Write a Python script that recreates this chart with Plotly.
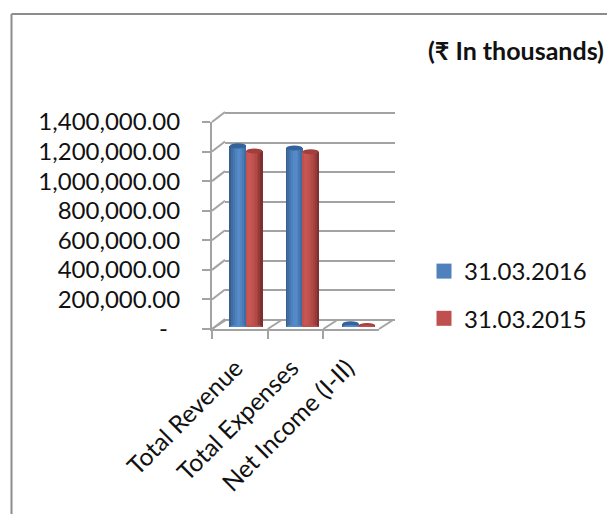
import plotly.graph_objects as go

W, H = 607, 514
FW, FH = W, H

categories = ["Total Revenue", "Total Expenses", "Net Income (I-II)"]
series_names = ["31.03.2016", "31.03.2015"]
values_2016 = [1225000, 1210000, 22000]
values_2015 = [1190000, 1185000, 10000]
y_ticks = [0, 200000, 400000, 600000, 800000, 1000000, 1200000, 1400000]
y_labels = ["-\u00a0\u00a0", "200,000.00", "400,000.00", "600,000.00", "800,000.00",
            "1,000,000.00", "1,200,000.00", "1,400,000.00"]
subtitle = "(₹ In thousands)"

blue_shades = ["#375E8E", "#3F6CA3", "#4877AF", "#4F81BD", "#5489C7", "#558BCA", "#5085C2", "#487AB4", "#3E6CA3"]
red_shades = ["#C0504D", "#C65652", "#C75753", "#C35350", "#BC4E4B", "#B34946", "#A64340", "#943A38", "#7E302E"]
blue_cap, red_cap = "#34629C", "#A23E3B"
blue_key, red_key = "#4F81BD", "#C0504D"
GRAY = "#A3A3A3"


def px(x):
    return x / FW


def py(y):
    return 1 - y / FH


fig = go.Figure()

# back wall first, so that its gridlines lie behind the bars
fig.add_trace(go.Scatter(x=[None], y=[None], xaxis="x2", yaxis="y2", showlegend=False, hoverinfo="skip"))

half = 0.29
positions = list(range(len(categories)))
shapes = []
for values, shades, cap, side in [
    (values_2016, blue_shades, blue_cap, -1),
    (values_2015, red_shades, red_cap, 1),
]:
    n = len(shades)
    strip = half / n
    for i, colour in enumerate(shades):
        left = (-half if side < 0 else 0) + i * strip
        fig.add_trace(go.Bar(
            x=positions, y=values, xaxis="x3", yaxis="y3",
            width=strip * 1.08, offset=left,
            marker=dict(color=colour, line=dict(width=0)),
            showlegend=False, hoverinfo="skip",
        ))
    for p, v in zip(positions, values):
        x0 = p + (-half if side < 0 else 0)
        x1 = x0 + half
        shapes.append(dict(type="circle", xref="x3", yref="y3", x0=x0, x1=x1,
                           y0=v - 17000, y1=v + 17000, fillcolor=cap, line_width=0, layer="above"))
        shapes.append(dict(type="circle", xref="x3", yref="y3", x0=x0, x1=x1,
                           y0=-14000, y1=14000, fillcolor=shades[n // 2], line_width=0, layer="above"))

for k, (name, colour) in enumerate(zip(series_names, [blue_key, red_key])):
    fig.add_trace(go.Scatter(
        x=[None], y=[None], xaxis="x3", yaxis="y3", mode="markers", name=name,
        legendgroup=name,
        marker=dict(symbol="square", size=15, color=colour),
    ))

# depth lines of the 3-D frame
line = dict(color=GRAY, width=2)
front_x = [212, 267.7, 323.3, 379]
for fx in front_x:
    shapes.append(dict(type="line", xref="paper", yref="paper", x0=px(fx), x1=px(fx + 14),
                       y0=py(329), y1=py(320), line=line, layer="below"))
for k in range(len(y_ticks)):
    fy = 329 - k * 207 / 7
    shapes.append(dict(type="line", xref="paper", yref="paper", x0=px(212), x1=px(225),
                       y0=py(fy), y1=py(fy - 10), line=line, layer="below"))
# chart border
shapes.append(dict(type="line", xref="paper", yref="paper", x0=px(11.5), x1=1, y0=py(14), y1=py(14),
                   line=dict(color="#8C8C8C", width=2)))
shapes.append(dict(type="line", xref="paper", yref="paper", x0=px(11.5), x1=px(11.5), y0=py(14), y1=0,
                   line=dict(color="#8C8C8C", width=2)))

font = dict(family="Lato, Carlito, Calibri, sans-serif", color="#111111")
tick_font = dict(size=24, family=font["family"], color="#111111")

fig.update_layout(
    width=FW, height=FH, margin=dict(l=0, r=0, t=0, b=0, autoexpand=False),
    paper_bgcolor="white", plot_bgcolor="rgba(0,0,0,0)",
    barmode="overlay", bargap=0,
    font=font,
    shapes=shapes,
    xaxis=dict(domain=[px(212), px(379)], type="category", categoryorder="array", categoryarray=categories,
               range=[-0.5, 2.5], autorange=False,
               tickmode="array", tickvals=categories, ticktext=categories,
               tickson="boundaries", ticks="outside", ticklen=8, tickwidth=2, tickcolor=GRAY,
               showline=True, linecolor=GRAY, linewidth=2, showgrid=False, zeroline=False,
               tickangle=-45, tickfont=dict(tick_font, size=24.5), anchor="y", automargin=False,
               ticklabelstandoff=13, ticklabelshift=-4),
    yaxis=dict(domain=[py(329), py(122)], range=[0, 1400000], tickmode="array",
               tickvals=y_ticks, ticktext=y_labels, ticks="outside", ticklen=8, tickwidth=2, tickcolor=GRAY,
               showline=True, linecolor=GRAY, linewidth=2, showgrid=False, zeroline=False,
               ticklabelstandoff=17, tickfont=tick_font, anchor="x", automargin=False),
    xaxis2=dict(domain=[px(225), px(395)], range=[0, 1], visible=False, anchor="y2", automargin=False),
    yaxis2=dict(domain=[py(323), py(110)], range=[-20290, 1420290], anchor="x2",
                tickmode="array", tickvals=y_ticks, showticklabels=False, ticks="",
                showgrid=True, gridcolor=GRAY, gridwidth=2, zeroline=False, showline=False, automargin=False),
    xaxis3=dict(domain=[px(218), px(387)], range=[-0.5, 2.5], visible=False, anchor="y3", automargin=False),
    yaxis3=dict(domain=[py(327), py(120)], range=[0, 1400000], visible=False, anchor="x3", automargin=False),
    legend=dict(xref="container", yref="container", x=px(424), y=py(249), xanchor="left", yanchor="top", tracegroupgap=13,
                font=dict(size=24, family=font["family"], color="#111111"),
                bgcolor="rgba(0,0,0,0)", itemclick=False, itemdoubleclick=False),
    annotations=[dict(text=subtitle, xref="paper", yref="paper", x=px(606), y=py(50), xanchor="right",
                      yanchor="middle", showarrow=False,
                      font=dict(size=25, family=font["family"], color="#111111", weight="bold"))],
)
# a trace on the front axes keeps the category axis populated
fig.add_trace(go.Scatter(x=categories, y=[None, None, None], xaxis="x", yaxis="y", showlegend=False,
                         hoverinfo="skip", mode="markers"))

fig.write_html("out.html", config=dict(displayModeBar=False), post_script=(
    "document.body.style.margin='0';"
    "document.documentElement.style.overflow='hidden';"
))
